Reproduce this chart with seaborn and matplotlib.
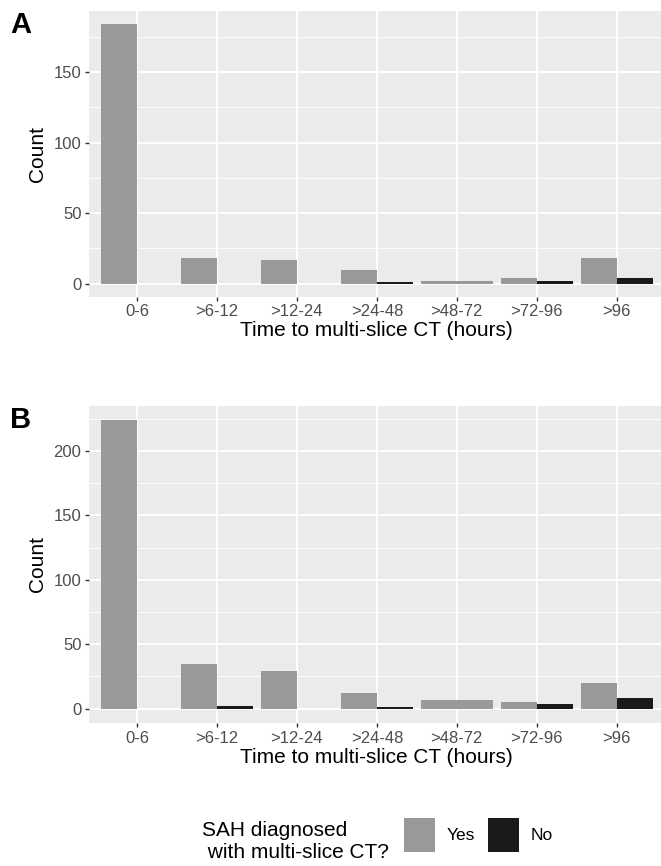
import numpy as np
import pandas as pd
import matplotlib
matplotlib.use("Agg")
import matplotlib.pyplot as plt
from matplotlib.patches import Patch
from matplotlib.ticker import MultipleLocator
import seaborn as sns

# counts
categories = ["0-6", ">6-12", ">12-24", ">24-48", ">48-72", ">72-96", ">96"]
a_yes = [184, 18, 17, 10, 2, 4, 18]
a_no = [0, 0, 0, 1, np.nan, 2, 4]
b_yes = [224, 35, 29, 12, 7, 5, 20]
b_no = [0, 2, 0, 1, np.nan, 4, 8]
hue_levels = ["Yes", "No"]
palette = {"Yes": "#999999", "No": "#1A1A1A"}

sns.set_theme(style="darkgrid", rc={
    "axes.facecolor": "#EBEBEB",
    "grid.color": "white",
    "axes.edgecolor": "none",
    "xtick.bottom": True,
    "ytick.left": True,
    "text.color": "black",
    "axes.labelcolor": "black",
})
plt.rcParams["font.family"] = ["Liberation Sans", "DejaVu Sans"]


def long_frame(yes, no):
    df = pd.DataFrame({
        "time": categories * 2,
        "sah": ["Yes"] * len(categories) + ["No"] * len(categories),
        "count": list(yes) + list(no),
    })
    return df.dropna()


def draw_panel(ax, yes, no, ymax):
    df = long_frame(yes, no)
    sns.barplot(data=df, x="time", y="count", hue="sah", order=categories,
                hue_order=hue_levels, palette=palette, width=0.9,
                linewidth=0, saturation=1, ax=ax)
    # ggplot dodge: a group with a single bar takes the whole width
    no_present = {c for c, v in zip(categories, no) if not np.isnan(v)}
    for patch in ax.containers[0]:
        idx = int(round(patch.get_x() + patch.get_width()))
        if categories[idx] not in no_present:
            patch.set_width(0.9)
    ax.set_xlim(-0.6, len(categories) - 0.4)
    ax.set_ylim(-0.05 * ymax, ymax * 1.05)
    ax.yaxis.set_major_locator(MultipleLocator(50))
    ax.yaxis.set_minor_locator(MultipleLocator(25))
    ax.grid(which="major", color="white", linewidth=1.3)
    ax.grid(which="minor", axis="y", color="white", linewidth=0.6)
    ax.grid(which="minor", axis="x", visible=False)
    ax.tick_params(axis="both", which="major", length=2.9, width=1.0,
                   color="#333333", labelcolor="#4D4D4D", labelsize=12, pad=2.5)
    ax.tick_params(axis="both", which="minor", length=0)
    ax.set_xlabel("Time to multi-slice CT (hours)", fontsize=15, labelpad=1.5)
    ax.set_ylabel("Count", fontsize=15, labelpad=4.5)
    for s in ax.spines.values():
        s.set_visible(False)
    if ax.get_legend() is not None:
        ax.get_legend().remove()


fig = plt.figure(figsize=(6.61, 8.66), dpi=100)
ax_a = fig.add_axes([0.1346, 0.6574, 0.871, 0.3299])
ax_b = fig.add_axes([0.1346, 0.1650, 0.871, 0.3666])

draw_panel(ax_a, a_yes, a_no, 184)
draw_panel(ax_b, b_yes, b_no, 224)

fig.text(0.015, 0.9619, "A", fontsize=21, fontweight="bold", va="baseline", ha="left")
fig.text(0.015, 0.5058, "B", fontsize=21, fontweight="bold", va="baseline", ha="left")

handles = [Patch(facecolor=palette[h], edgecolor="none") for h in hue_levels]
fig.text(0.305, 0.0283, "SAH diagnosed\n with multi-slice CT?", fontsize=15,
         ha="left", va="center", linespacing=1.2)
fig.legend(handles, hue_levels, loc="center left", bbox_to_anchor=(0.611, 0.0358),
           ncol=2, frameon=False, fontsize=12.5, handlelength=1.78, handleheight=2.6,
           handletextpad=0.67, columnspacing=0.75, borderaxespad=0, borderpad=0)

fig.savefig("out.png", dpi=100)
